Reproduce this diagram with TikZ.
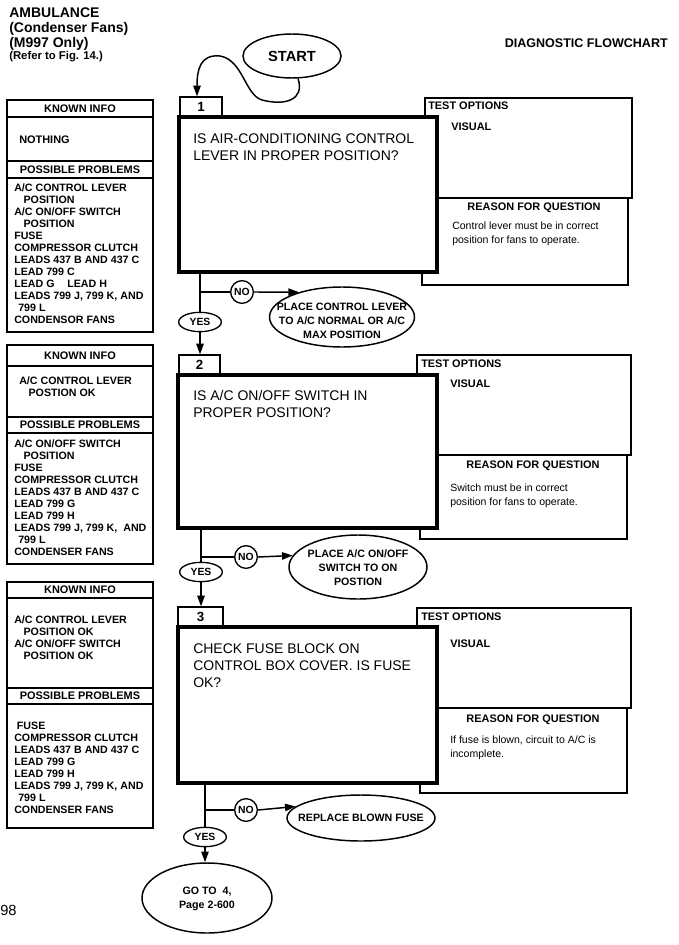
\documentclass[tikz,border=0pt]{standalone}
\usepackage{fontspec}
\setmainfont{Liberation Sans}
\usetikzlibrary{shapes.geometric,arrows.meta,calc,fit}
\begin{document}
\begin{tikzpicture}[x=0.75pt,y=-0.75pt,
  mainbox/.style={draw,line width=3pt,fill=white,inner sep=0},
  thinbox/.style={draw,line width=0.9pt,fill=white,inner sep=0},
  tobox/.style={draw,line width=1.3pt,fill=white,inner sep=0},
  ellshape/.style={draw,ellipse,line width=1.1pt,fill=white,inner sep=0},
  elltxt/.style={align=center,inner sep=0,font=\fontsize{8}{10.5}\selectfont\bfseries},
  yesell/.style={draw,ellipse,line width=1pt,fill=white,inner sep=0,minimum width=32pt,minimum height=14.5pt,font=\fontsize{7.8}{9}\selectfont\bfseries},
  nocirc/.style={draw,circle,line width=1pt,fill=white,inner sep=0,minimum size=17pt,font=\fontsize{7.8}{9}\selectfont\bfseries},
  conn/.style={line width=1.1pt},
  arr/.style={line width=1.1pt,-{Triangle[length=8pt,width=5.5pt]}},
  hdr/.style={inner sep=0,font=\fontsize{8.2}{9.6}\selectfont\bfseries},
  lst/.style={font=\fontsize{8}{9}\selectfont\bfseries,align=left,inner sep=0,anchor=north west},
  qtxt/.style={font=\fontsize{10.5}{12.75}\selectfont,align=left,inner sep=0,anchor=north west},
  rtxt/.style={font=\fontsize{7.9}{10.2}\selectfont,align=left,inner sep=0,anchor=north west},
  tab/.style={draw,line width=0.9pt,fill=white,inner sep=0},
  tabnum/.style={inner sep=0,font=\fontsize{10}{12}\selectfont\bfseries}
]
\fill[white] (0,0) rectangle (678,945);
\useasboundingbox (0,0) rectangle (678,945);

% ---------- header ----------
\node[anchor=west,inner sep=0,font=\fontsize{10.5}{12}\selectfont\bfseries] (h1) at (9,13) {AMBULANCE};
\node[anchor=west,inner sep=0,font=\fontsize{10.5}{12}\selectfont\bfseries] (h2) at (9,28.5) {(Condenser Fans)};
\node[anchor=west,inner sep=0,font=\fontsize{10.5}{12}\selectfont\bfseries] (h3) at (9,44) {(M997 Only)};
\node[anchor=west,inner sep=0,font=\fontsize{8.5}{10}\selectfont\bfseries] (h4) at (9,57) {(Refer to Fig. 14.)};
\node[anchor=east,inner sep=0,font=\fontsize{9.4}{11}\selectfont\bfseries] (dfc) at (668,43) {DIAGNOSTIC FLOWCHART};
\node[anchor=west,inner sep=0,font=\fontsize{11}{13}\selectfont] (pg) at (0,910) {98};

% ---------- left panels ----------
\node[thinbox,fit={(7,100) (153,117)}] (ki1) {};
\node[hdr] (ki1t) at (ki1) {KNOWN INFO};
\node[thinbox,fit={(7,117) (153,161)}] (kb1) {};
\node[anchor=west,hdr] (kb1t) at (19,140) {NOTHING};
\node[thinbox,fit={(7,161) (153,178)}] (pp1) {};
\node[hdr] (pp1t) at (pp1) {POSSIBLE PROBLEMS};
\node[thinbox,fit={(7,178) (153,332)}] (pb1) {};
\node[lst] (pb1t) at (14,184) {A/C CONTROL LEVER\\\hspace*{7pt}POSITION\\A/C ON/OFF SWITCH\\\hspace*{7pt}POSITION\\FUSE\\COMPRESSOR CLUTCH\\LEADS 437 B AND 437 C\\LEAD 799 C\\LEAD G\hspace{1.2em}LEAD H\\LEADS 799 J, 799 K, AND\\\hspace*{3pt}799 L\\CONDENSOR FANS};

\node[thinbox,fit={(7,345) (153,366)}] (ki2) {};
\node[hdr] (ki2t) at (ki2) {KNOWN INFO};
\node[thinbox,fit={(7,366) (153,417)}] (kb2) {};
\node[lst] (kb2t) at (19,377) {A/C CONTROL LEVER\\\hspace*{7pt}POSTION OK};
\node[thinbox,fit={(7,417) (153,433)}] (pp2) {};
\node[hdr] (pp2t) at (pp2) {POSSIBLE PROBLEMS};
\node[thinbox,fit={(7,433) (153,564)}] (pb2) {};
\node[lst] (pb2t) at (14,439) {A/C ON/OFF SWITCH\\\hspace*{7pt}POSITION\\FUSE\\COMPRESSOR CLUTCH\\LEADS 437 B AND 437 C\\LEAD 799 G\\LEAD 799 H\\LEADS 799 J, 799 K,\ \ AND\\\hspace*{3pt}799 L\\CONDENSER FANS};

\node[thinbox,fit={(7,582) (153,598)}] (ki3) {};
\node[hdr] (ki3t) at (ki3) {KNOWN INFO};
\node[thinbox,fit={(7,598) (153,688)}] (kb3) {};
\node[lst] (kb3t) at (14,615) {A/C CONTROL LEVER\\\hspace*{7pt}POSITION OK\\A/C ON/OFF SWITCH\\\hspace*{7pt}POSITION OK};
\node[thinbox,fit={(7,688) (153,704)}] (pp3) {};
\node[hdr] (pp3t) at (pp3) {POSSIBLE PROBLEMS};
\node[thinbox,fit={(7,704) (153,828)}] (pb3) {};
\node[lst] (pb3t) at (14,722) {\hspace*{2pt}FUSE\\COMPRESSOR CLUTCH\\LEADS 437 B AND 437 C\\LEAD 799 G\\LEAD 799 H\\LEADS 799 J, 799 K, AND\\\hspace*{3pt}799 L\\CONDENSER FANS};

% ---------- side boxes ----------
\node[thinbox,fit={(422,198) (628,285)}] (rb1) {};
\node[tobox,fit={(425,98) (632,198)}] (to1) {};
\node[thinbox,fit={(420,455) (627,539)}] (rb2) {};
\node[tobox,fit={(417,355) (631,455)}] (to2) {};
\node[thinbox,fit={(420,708) (627,793)}] (rb3) {};
\node[tobox,fit={(417,608) (631,708)}] (to3) {};

\node[anchor=west,hdr] (to1t) at (428,106) {TEST OPTIONS};
\node[anchor=west,hdr] (to1v) at (451,127) {VISUAL};
\node[hdr] (rb1t) at (534,208) {REASON FOR QUESTION};
\node[rtxt] (rb1x) at (452,222) {Control lever must be in correct\\position for fans to operate.};

\node[anchor=west,hdr] (to2t) at (421,364) {TEST OPTIONS};
\node[anchor=west,hdr] (to2v) at (450,384) {VISUAL};
\node[hdr] (rb2t) at (533,466) {REASON FOR QUESTION};
\node[rtxt] (rb2x) at (450,484) {Switch must be in correct\\position for fans to operate.};

\node[anchor=west,hdr] (to3t) at (421,617) {TEST OPTIONS};
\node[anchor=west,hdr] (to3v) at (450,644) {VISUAL};
\node[hdr] (rb3t) at (533,720) {REASON FOR QUESTION};
\node[rtxt] (rb3x) at (450,736) {If fuse is blown, circuit to A/C is\\incomplete.};

% ---------- question boxes ----------
\node[tab,fit={(180,97) (222,116)}] (tab1) {};
\node[tabnum] (tab1t) at (tab1) {1};
\node[mainbox,fit={(179,117) (437,272)}] (box1) {};
\node[qtxt] (q1) at (193,133) {IS AIR-CONDITIONING CONTROL\\LEVER IN PROPER POSITION?};

\node[tab,fit={(179,355) (220,375)}] (tab2) {};
\node[tabnum] (tab2t) at (tab2) {2};
\node[mainbox,fit={(178,375) (437,528)}] (box2) {};
\node[qtxt] (q2) at (193,390) {IS A/C ON/OFF SWITCH IN\\PROPER POSITION?};

\node[tab,fit={(178,607) (223,627)}] (tab3) {};
\node[tabnum] (tab3t) at (tab3) {3};
\node[mainbox,fit={(178,627) (437,783)}] (box3) {};
\node[qtxt] (q3) at (193,643) {CHECK FUSE BLOCK ON\\CONTROL BOX COVER. IS FUSE\\OK?};

% ---------- start ----------
\node[ellshape,minimum width=73.5pt,minimum height=33pt,font=\fontsize{11}{13}\selectfont\bfseries] (start) at (292,56) {START};
\draw[arr] (start.285) .. controls (305,100) and (285,106) .. (262,100)
  .. controls (245,95) and (243,60) .. (220,56)
  .. controls (200,54) and (197,70) .. ($(tab1.north)+(-4,0)$);

% ---------- step 1 branches ----------
\node[nocirc] (no1) at (242,292) {NO};
\node[yesell] (yes1) at (200,322) {YES};
\node[ellshape,minimum width=108.75pt,minimum height=45pt] (placeA) at (342,317) {};
\node[elltxt] (placeAt) at (342,321) {PLACE CONTROL LEVER\\TO A/C NORMAL OR A/C\\MAX POSITION};
\coordinate (j1) at (200,292);
\draw[conn] (box1.south -| j1) -- (yes1.north);
\draw[conn] (j1) -- (no1.west);
\draw[arr] (no1.east) -- (placeA.150);
\draw[arr] (yes1.south) -- (yes1.south |- tab2.north);

% ---------- step 2 branches ----------
\node[nocirc] (no2) at (246,557) {NO};
\node[yesell] (yes2) at (201,572) {YES};
\node[ellshape,minimum width=103.5pt,minimum height=48pt] (placeB) at (358,567) {};
\node[elltxt] (placeBt) at (358,568) {PLACE A/C ON/OFF\\SWITCH TO ON\\POSTION};
\coordinate (j2) at (201,557);
\draw[conn] (box2.south -| j2) -- (yes2.north);
\draw[conn] (j2) -- (no2.west);
\draw[arr] (no2.east) -- (placeB.170);
\draw[arr] (yes2.south) -- (yes2.south |- tab3.north);

% ---------- step 3 branches ----------
\node[nocirc] (no3) at (246,810) {NO};
\node[yesell] (yes3) at (205,837) {YES};
\node[ellshape,minimum width=111pt,minimum height=34.5pt] (fuse) at (361,818) {};
\node[elltxt] (fuset) at (361,818) {REPLACE BLOWN FUSE};
\node[ellshape,minimum width=97.5pt,minimum height=52.5pt] (goto) at (207,898) {};
\node[elltxt] (gotot) at (207,899) {GO TO\ \ 4,\\Page 2-600};
\coordinate (j3) at (205,810);
\draw[conn] (box3.south -| j3) -- (yes3.north);
\draw[conn] (j3) -- (no3.west);
\draw[arr] (no3.east) -- (fuse.170);
\draw[arr] (yes3.south) -- (yes3.south |- goto.north);
\end{tikzpicture}
\end{document}
